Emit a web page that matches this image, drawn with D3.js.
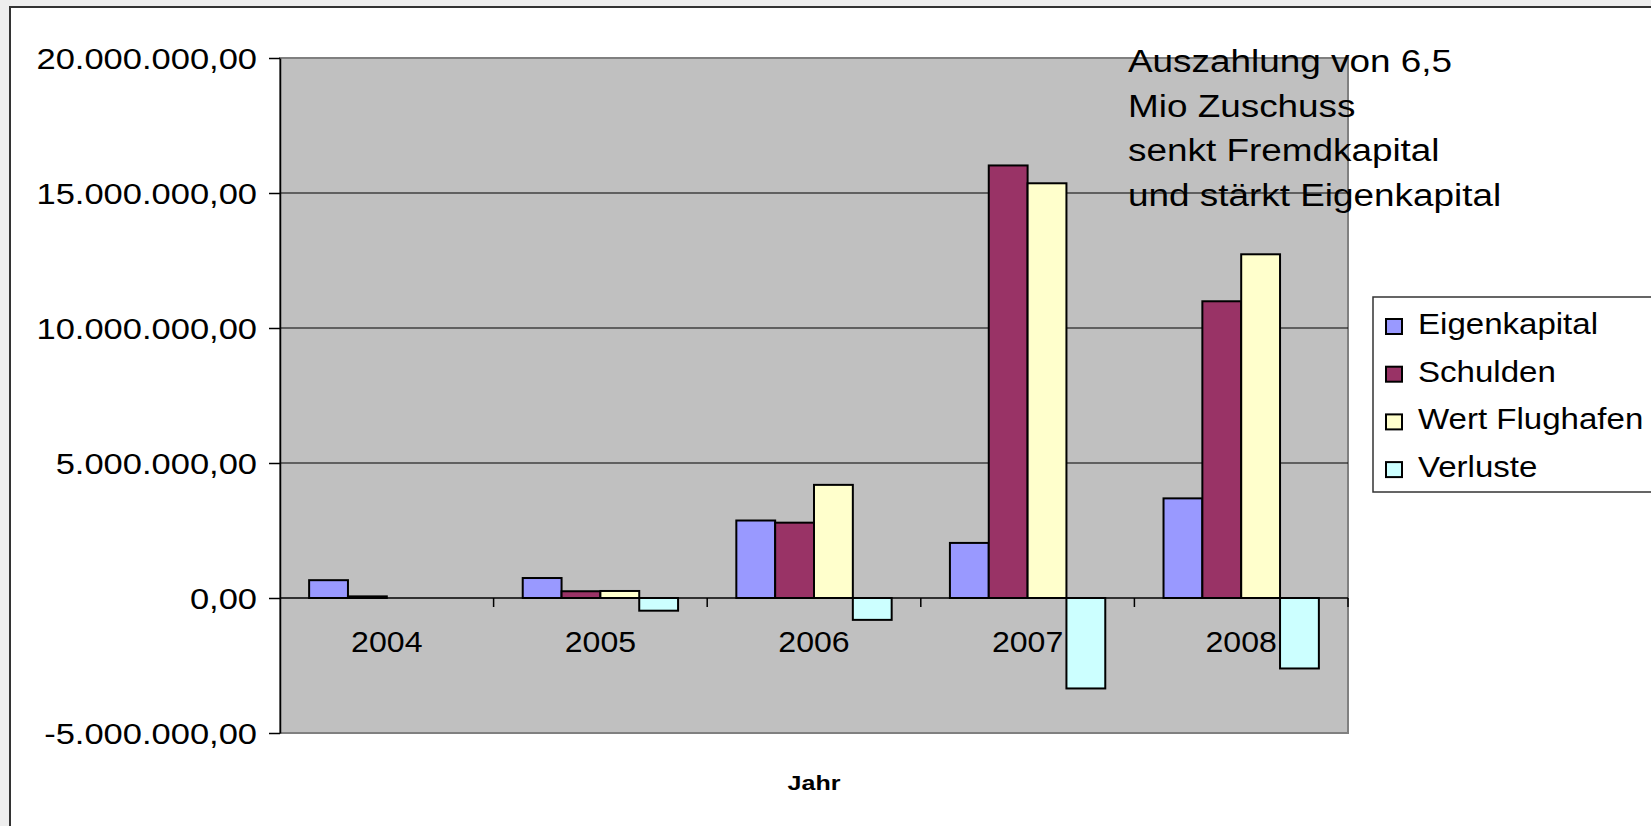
<!DOCTYPE html>
<html>
<head>
<meta charset="utf-8">
<script src="https://cdn.jsdelivr.net/npm/d3@7"></script>
<style>
 body { margin: 0; background: #eeeeee; overflow: hidden; }
 text { font-family: "Liberation Sans", Arial, sans-serif; fill: #000; }
</style>
</head>
<body>
<script>
 // *** data (values in euro)
 var years = ["2004", "2005", "2006", "2007", "2008"];
 var seriesNames = ["Eigenkapital", "Schulden", "Wert Flughafen", "Verluste"];
 var eigenkapital = [660000, 740000, 2870000, 2040000, 3690000];
 var schulden = [60000, 250000, 2790000, 16020000, 10990000];
 var wertFlughafen = [0, 260000, 4190000, 15360000, 12730000];
 var verluste = [0, -470000, -810000, -3350000, -2610000];
 var yTicks = [-5000000, 0, 5000000, 10000000, 15000000, 20000000];
 var seriesColors = ["#9999FF", "#993366", "#FFFFCC", "#CCFFFF"];
 var noteLines = ["Auszahlung von 6,5", "Mio Zuschuss", "senkt Fremdkapital", "und stärkt Eigenkapital"];

 var seriesValues = [eigenkapital, schulden, wertFlughafen, verluste];

 var width = 1651
 var height = 826
 var plotLeft = 280
 var plotRight = 1348
 var plotTop = 58
 var plotBottom = 733

 // *** german number format 20.000.000,00
 var deLocale = d3.formatLocale({ decimal: ",", thousands: ".", grouping: [3], currency: ["", " €"], minus: "-" });
 var fmt = deLocale.format(",.2f");

 var svg = d3.select('body')
  .append('svg')
  .attr('width', width)
  .attr('height', height);

 // outer chart frame
 svg.append('rect')
  .attr('x', 10)
  .attr('y', 7)
  .attr('width', 1700)
  .attr('height', 900)
  .attr('fill', 'white')
  .attr('stroke', '#333')
  .attr('stroke-width', 2);

 var xScale = d3.scaleBand()
  .domain(years)
  .range([plotLeft, plotRight])
  .paddingInner(0)
  .paddingOuter(0);

 var xInner = d3.scaleBand()
  .domain(seriesNames)
  .range([0, xScale.bandwidth()])
  .paddingInner(0)
  .paddingOuter(0.75);

 var yScale = d3.scaleLinear()
  .domain([-5000000, 20000000])
  .range([plotBottom, plotTop]);

 // plot area background
 svg.append('rect')
  .attr('x', plotLeft)
  .attr('y', plotTop)
  .attr('width', plotRight - plotLeft)
  .attr('height', plotBottom - plotTop)
  .attr('fill', '#C0C0C0')
  .attr('stroke', '#808080')
  .attr('stroke-width', 2);

 // gridlines
 svg.append('g')
  .selectAll('line')
  .data(yTicks.filter(function(d) { return d > 0 && d < 20000000 }))
  .enter()
  .append('line')
  .attr('x1', plotLeft)
  .attr('x2', plotRight)
  .attr('y1', function(d) { return yScale(d) })
  .attr('y2', function(d) { return yScale(d) })
  .attr('stroke', '#000')
  .attr('stroke-width', 1);

 // *** bars
 var groups = svg.selectAll('g.year')
  .data(years)
  .enter()
  .append('g')
  .attr('class', 'year')
  .attr('transform', function(d) { return 'translate(' + xScale(d) + ',0)' });

 groups.selectAll('rect')
  .data(function(d, i) {
   return seriesNames.map(function(s, j) { return { name: s, value: seriesValues[j][i], color: seriesColors[j] } });
  })
  .enter()
  .append('rect')
  .filter(function(d) { return d.value !== 0 })
  .attr('x', function(d) { return xInner(d.name) })
  .attr('width', xInner.bandwidth())
  .attr('y', function(d) { return yScale(Math.max(0, d.value)) })
  .attr('height', function(d) { return Math.abs(yScale(d.value) - yScale(0)) })
  .attr('fill', function(d) { return d.color })
  .attr('stroke', '#000')
  .attr('stroke-width', 2);

 // y axis
 var yAxis = d3.axisLeft(yScale).tickValues(yTicks).tickFormat(fmt).tickSize(11).tickSizeOuter(0);
 var yG = svg.append('g')
  .attr('transform', 'translate(' + plotLeft + ',0)')
  .call(yAxis);
 yG.select('.domain').attr('stroke', '#000').attr('stroke-width', 1.5);
 yG.selectAll('.tick line').attr('stroke', '#000').attr('stroke-width', 1.5);
 yG.selectAll('text')
  .attr('font-size', 30)
  .attr('x', -23 / 1.15)
  .attr('dy', '0.36em')
  .attr('transform', 'scale(1.15,1)')
  .style('font-family', '"Liberation Sans", Arial, sans-serif');

 // zero line with boundary ticks
 svg.append('line')
  .attr('x1', plotLeft)
  .attr('x2', plotRight)
  .attr('y1', yScale(0))
  .attr('y2', yScale(0))
  .attr('stroke', '#000')
  .attr('stroke-width', 1.5);

 svg.append('g')
  .selectAll('line')
  .data(years.slice(1).concat(['end']))
  .enter()
  .append('line')
  .attr('x1', function(d) { return d === 'end' ? plotRight : xScale(d) })
  .attr('x2', function(d) { return d === 'end' ? plotRight : xScale(d) })
  .attr('y1', yScale(0))
  .attr('y2', yScale(0) + 9)
  .attr('stroke', '#000')
  .attr('stroke-width', 1.5);

 // x axis labels
 var xAxis = d3.axisBottom(xScale).tickSize(0);
 var xG = svg.append('g')
  .attr('transform', 'translate(0,' + yScale(0) + ')')
  .call(xAxis);
 xG.select('.domain').remove();
 xG.selectAll('text')
  .attr('font-size', 30)
  .attr('y', 54.5)
  .attr('dy', 0)
  .attr('transform', 'scale(1.07,1)')
  .attr('x', 0)
  .style('font-family', '"Liberation Sans", Arial, sans-serif');
 xG.selectAll('.tick').attr('transform', function(d) { return 'translate(' + (xScale(d) + xScale.bandwidth() / 2) + ',0)' });

 // x axis title
 svg.append('text')
  .attr('transform', 'translate(' + (plotLeft + plotRight) / 2 + ',790) scale(1.19,1)')
  .style('text-anchor', 'middle')
  .attr('font-size', 21)
  .attr('font-weight', 'bold')
  .text('Jahr');

 // *** annotation text
 svg.append('g')
  .selectAll('text')
  .data(noteLines)
  .enter()
  .append('text')
  .attr('transform', function(d, i) { return 'translate(1128,' + (72 + i * 44.5) + ') scale(1.19,1)' })
  .attr('font-size', 31)
  .text(function(d) { return d });

 // *** legend
 var legend = svg.append('g');
 legend.append('rect')
  .attr('x', 1373)
  .attr('y', 297)
  .attr('width', 400)
  .attr('height', 195)
  .attr('fill', 'white')
  .attr('stroke', '#333')
  .attr('stroke-width', 1.5);

 var items = legend.selectAll('g.item')
  .data(seriesNames)
  .enter()
  .append('g')
  .attr('class', 'item')
  .attr('transform', function(d, i) { return 'translate(0,' + (334 + i * 47.7) + ')' });

 items.append('rect')
  .attr('x', 1386)
  .attr('y', -15)
  .attr('width', 16)
  .attr('height', 15)
  .attr('fill', function(d, i) { return seriesColors[i] })
  .attr('stroke', '#000')
  .attr('stroke-width', 2);

 items.append('text')
  .attr('transform', 'translate(1418,0) scale(1.14,1)')
  .attr('font-size', 29)
  .text(function(d) { return d });
</script>
</body>
</html>
